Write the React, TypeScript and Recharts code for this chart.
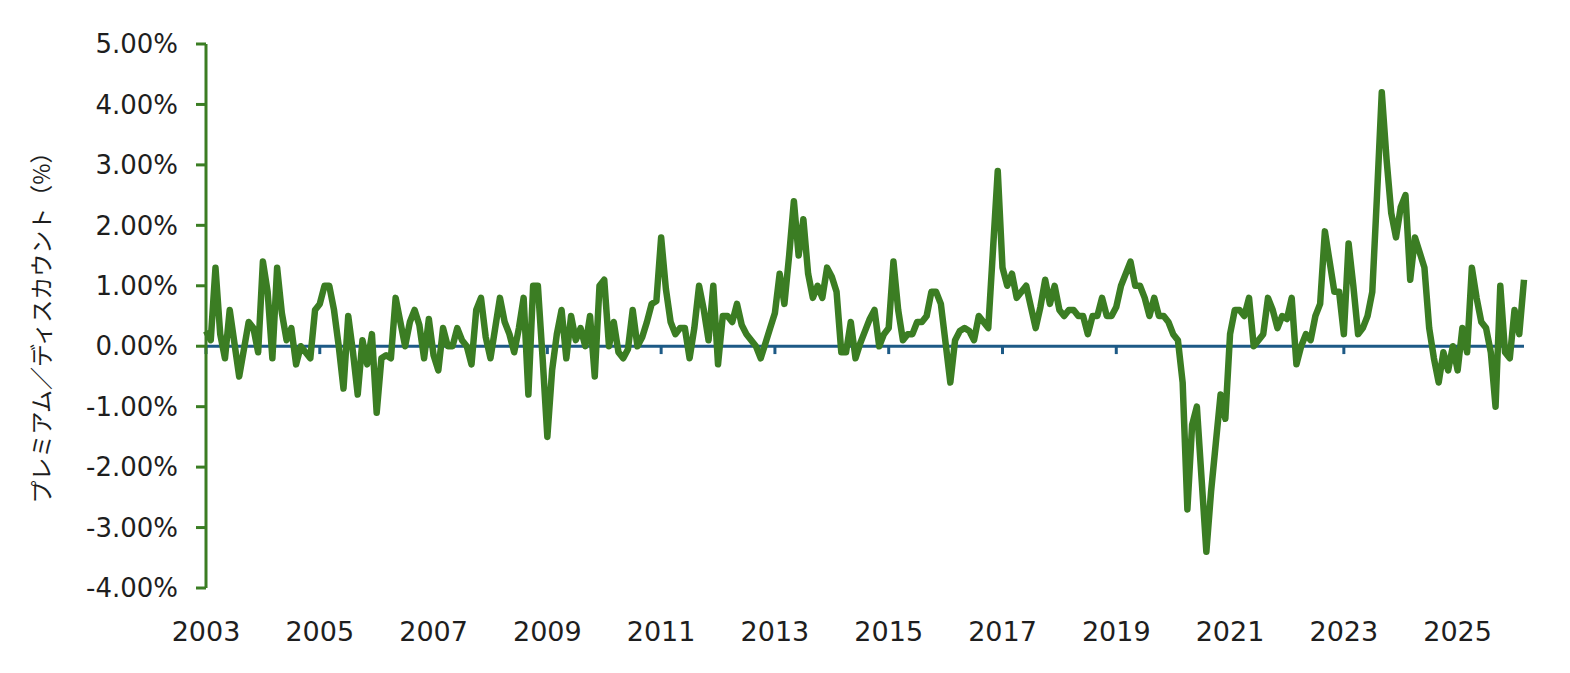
import { Line, LineChart, ReferenceLine, XAxis, YAxis } from 'recharts';

// monthly premium/discount (%), Jan 2003 onwards
const prem2003_2004 = [
  0.25, 0.1, 1.3, 0.2, -0.2, 0.6, 0.05, -0.5, -0.05, 0.4, 0.3, -0.1,
  1.4, 0.9, -0.2, 1.3, 0.55, 0.1, 0.3, -0.3, 0.0, -0.1, -0.2, 0.6,
];
const prem2005_2006 = [
  0.7, 1.0, 1.0, 0.6, 0.0, -0.7, 0.5, -0.1, -0.8, 0.1, -0.3, 0.2,
  -1.1, -0.2, -0.15, -0.2, 0.8, 0.4, 0.0, 0.4, 0.6, 0.35, -0.2, 0.45,
];
const prem2007_2008 = [
  -0.15, -0.4, 0.3, 0.0, 0.0, 0.3, 0.1, 0.0, -0.3, 0.6, 0.8, 0.15,
  -0.2, 0.3, 0.8, 0.4, 0.2, -0.1, 0.3, 0.8, -0.8, 1.0, 1.0, -0.2,
];
const prem2009_2010 = [
  -1.5, -0.4, 0.2, 0.6, -0.2, 0.5, 0.1, 0.3, 0.0, 0.5, -0.5, 1.0,
  1.1, 0.0, 0.4, -0.1, -0.2, -0.05, 0.6, 0.0, 0.15, 0.4, 0.7, 0.75,
];
const prem2011_2012 = [
  1.8, 0.95, 0.4, 0.2, 0.3, 0.3, -0.2, 0.3, 1.0, 0.6, 0.1, 1.0,
  -0.3, 0.5, 0.5, 0.4, 0.7, 0.35, 0.2, 0.1, 0.0, -0.2, 0.05, 0.3,
];
const prem2013_2014 = [
  0.55, 1.2, 0.7, 1.5, 2.4, 1.5, 2.1, 1.2, 0.8, 1.0, 0.8, 1.3,
  1.15, 0.9, -0.1, -0.1, 0.4, -0.2, 0.05, 0.25, 0.45, 0.6, 0.0, 0.2,
];
const prem2015_2016 = [
  0.3, 1.4, 0.6, 0.1, 0.2, 0.2, 0.4, 0.4, 0.5, 0.9, 0.9, 0.7,
  0.05, -0.6, 0.1, 0.25, 0.3, 0.25, 0.1, 0.5, 0.4, 0.3, 1.6, 2.9,
];
const prem2017_2018 = [
  1.3, 1.0, 1.2, 0.8, 0.9, 1.0, 0.65, 0.3, 0.65, 1.1, 0.7, 1.0,
  0.6, 0.5, 0.6, 0.6, 0.5, 0.5, 0.2, 0.5, 0.5, 0.8, 0.5, 0.5,
];
const prem2019_2020 = [
  0.65, 1.0, 1.2, 1.4, 1.0, 1.0, 0.8, 0.5, 0.8, 0.5, 0.5, 0.4,
  0.2, 0.1, -0.6, -2.7, -1.3, -1.0, -2.2, -3.4, -2.4, -1.6, -0.8, -1.2,
];
const prem2021_2022 = [
  0.2, 0.6, 0.6, 0.5, 0.8, 0.0, 0.1, 0.2, 0.8, 0.6, 0.3, 0.5,
  0.45, 0.8, -0.3, 0.0, 0.2, 0.1, 0.5, 0.7, 1.9, 1.4, 0.9, 0.9,
];
const prem2023_2024 = [
  0.2, 1.7, 1.0, 0.2, 0.3, 0.5, 0.9, 2.5, 4.2, 3.1, 2.2, 1.8,
  2.3, 2.5, 1.1, 1.8, 1.55, 1.3, 0.3, -0.2, -0.6, -0.1, -0.4, 0.0,
];
const prem2025_2026 = [
  -0.4, 0.3, -0.1, 1.3, 0.8, 0.4, 0.3, -0.1, -1.0, 1.0, -0.1, -0.2,
  0.6, 0.2, 1.1,
];

const startYear = 2003;
const yearTicks = [2003, 2005, 2007, 2009, 2011, 2013, 2015, 2017, 2019, 2021, 2023, 2025];
const pctTicks = [-4, -3, -2, -1, 0, 1, 2, 3, 4, 5];
const yTitle = 'プレミアム／ディスカウント（%）';

const values = [
  ...prem2003_2004, ...prem2005_2006, ...prem2007_2008, ...prem2009_2010,
  ...prem2011_2012, ...prem2013_2014, ...prem2015_2016, ...prem2017_2018,
  ...prem2019_2020, ...prem2021_2022, ...prem2023_2024, ...prem2025_2026,
];
const data = values.map((v, i) => ({ t: startYear + i / 12, v }));
const lastT = data[data.length - 1].t;

const GREEN = '#3b7d23';
const BLUE = '#1d5a86';
const TEXT = '#1e1e1e';

function AxisTitle(props: any) {
  const vb = props.viewBox || { y: 0, height: 0 };
  const cx = 40;
  const cy = vb.y + vb.height / 2 + 6;
  return (
    <text
      x={cx}
      y={cy}
      transform={`rotate(-90, ${cx}, ${cy})`}
      textAnchor="middle"
      dominantBaseline="central"
      fontSize={23}
      fill={TEXT}
      fontFamily="'Noto Sans CJK JP', sans-serif"
    >
      {yTitle}
    </text>
  );
}

export default function App() {
  return (
    <div style={{ position: 'absolute', left: 0, top: 0, width: 1570, height: 673, background: '#fff' }}>
      <LineChart width={1570} height={673} data={data} margin={{ top: 44, right: 46, left: 0, bottom: 0 }}>
        <XAxis
          dataKey="t"
          type="number"
          domain={[startYear, lastT]}
          ticks={yearTicks}
          interval={0}
          axisLine={false}
          tickLine={false}
          tickSize={0}
          tickMargin={34}
          height={85}
          tick={{ fill: TEXT, fontSize: 27, fontFamily: "'DejaVu Sans', Verdana, sans-serif" }}
        />
        <YAxis
          domain={[-4, 5]}
          ticks={pctTicks}
          interval={0}
          width={206}
          tickSize={10}
          tickMargin={18}
          axisLine={{ stroke: GREEN, strokeWidth: 3 }}
          tickLine={{ stroke: GREEN, strokeWidth: 3 }}
          tickFormatter={(v: number) => `${v.toFixed(2)}%`}
          tick={{ fill: TEXT, fontSize: 26, fontFamily: "'DejaVu Sans', Verdana, sans-serif" }}
          label={<AxisTitle />}
        />
        <ReferenceLine y={0} stroke={BLUE} strokeWidth={3} />
        {yearTicks.map((yr) => (
          <ReferenceLine
            key={yr}
            segment={[{ x: yr, y: 0 }, { x: yr, y: -0.13 }]}
            stroke={BLUE}
            strokeWidth={3}
          />
        ))}
        <Line
          type="linear"
          dataKey="v"
          stroke={GREEN}
          strokeWidth={6.5}
          strokeLinejoin="round"
          dot={false}
          activeDot={false}
          isAnimationActive={false}
        />
      </LineChart>
    </div>
  );
}
